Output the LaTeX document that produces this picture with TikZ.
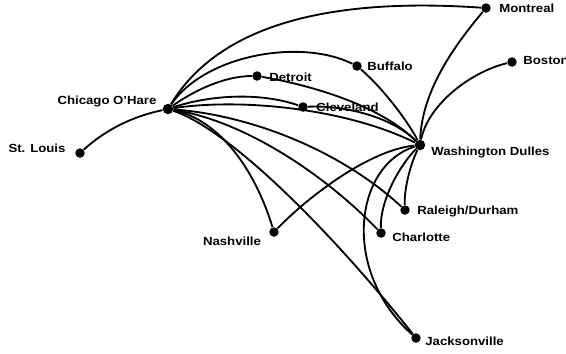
\documentclass[tikz,border=0pt]{standalone}
\usepackage{fontspec}
\setmainfont{Liberation Sans}[FakeStretch=1.12]
\begin{document}
\begin{tikzpicture}[x=0.02cm,y=-0.02cm,
  city/.style={circle,fill=black,inner sep=0pt,minimum size=0.19cm},
  hub/.style={circle,fill=black,inner sep=0pt,minimum size=0.21cm},
  lbl/.style={inner sep=0pt,font=\fontsize{6.7}{8}\selectfont\bfseries},
  route/.style={line width=1.05pt}]
\useasboundingbox (0,0) rectangle (566,353);
\clip (0,0) rectangle (566,353);

% airports
\node[hub]  (ord) at (168,109) {};
\node[hub]  (iad) at (420,145) {};
\node[city] (stl) at (80,153) {};
\node[city] (dtw) at (257,76) {};
\node[city] (buf) at (357,66) {};
\node[city] (cle) at (303,107) {};
\node[city] (mtl) at (486,8) {};
\node[city] (bos) at (512,62) {};
\node[city] (rdu) at (405,210) {};
\node[city] (clt) at (381,233) {};
\node[city] (bna) at (274,232) {};
\node[city] (jax) at (416,338) {};

% airport names
\node[lbl] (ordl) at (107,101) {Chicago O'Hare};
\node[lbl] (stll) at (37,148) {St. Louis};
\node[lbl,anchor=west] (dtwl) at (269,77) {Detroit};
\node[lbl,anchor=west] (bufl) at (367,66) {Buffalo};
\node[lbl,anchor=west] (clel) at (316,107) {Cleveland};
\node[lbl,anchor=west] (mtll) at (499,8) {Montreal};
\node[lbl,anchor=west] (bosl) at (523,61) {Boston};
\node[lbl,anchor=west] (iadl) at (431,152) {Washington Dulles};
\node[lbl,anchor=west] (rdul) at (417,211) {Raleigh/Durham};
\node[lbl,anchor=west] (cltl) at (392,237) {Charlotte};
\node[lbl] (bnal) at (232,241) {Nashville};
\node[lbl,anchor=west] (jaxl) at (425,341) {Jacksonville};

% routes out of Chicago O'Hare
\draw[route] (ord) .. controls (125,118) and (100,135) .. (stl);
\draw[route] (ord) .. controls (222,20) and (340,-2) .. (mtl);
\draw[route] (ord) .. controls (205,55) and (300,38) .. (buf);
\draw[route] (ord) .. controls (195,90) and (225,76) .. (dtw);
\draw[route] (ord) .. controls (210,95) and (260,92) .. (cle);
\draw[route] (ord) .. controls (240,98) and (345,108) .. (iad);
\draw[route] (ord) .. controls (250,115) and (340,150) .. (rdu);
\draw[route] (ord) .. controls (240,120) and (320,170) .. (clt);
\draw[route] (ord) .. controls (230,130) and (330,230) .. (jax);
\draw[route] (ord) .. controls (220,120) and (255,170) .. (bna);

% routes out of Washington Dulles
\draw[route] (iad) .. controls (422,90) and (455,45) .. (mtl);
\draw[route] (iad) .. controls (428,105) and (470,72) .. (bos);
\draw[route] (iad) .. controls (410,125) and (385,90) .. (buf);
\draw[route] (iad) .. controls (380,105) and (310,85) .. (dtw);
\draw[route] (iad) .. controls (390,115) and (340,105) .. (cle);
\draw[route] (iad) .. controls (370,150) and (310,195) .. (bna);
\draw[route] (iad) .. controls (410,165) and (404,190) .. (rdu);
\draw[route] (iad) .. controls (400,165) and (380,200) .. (clt);
\draw[route] (iad) .. controls (355,165) and (340,270) .. (jax);
\end{tikzpicture}
\end{document}
